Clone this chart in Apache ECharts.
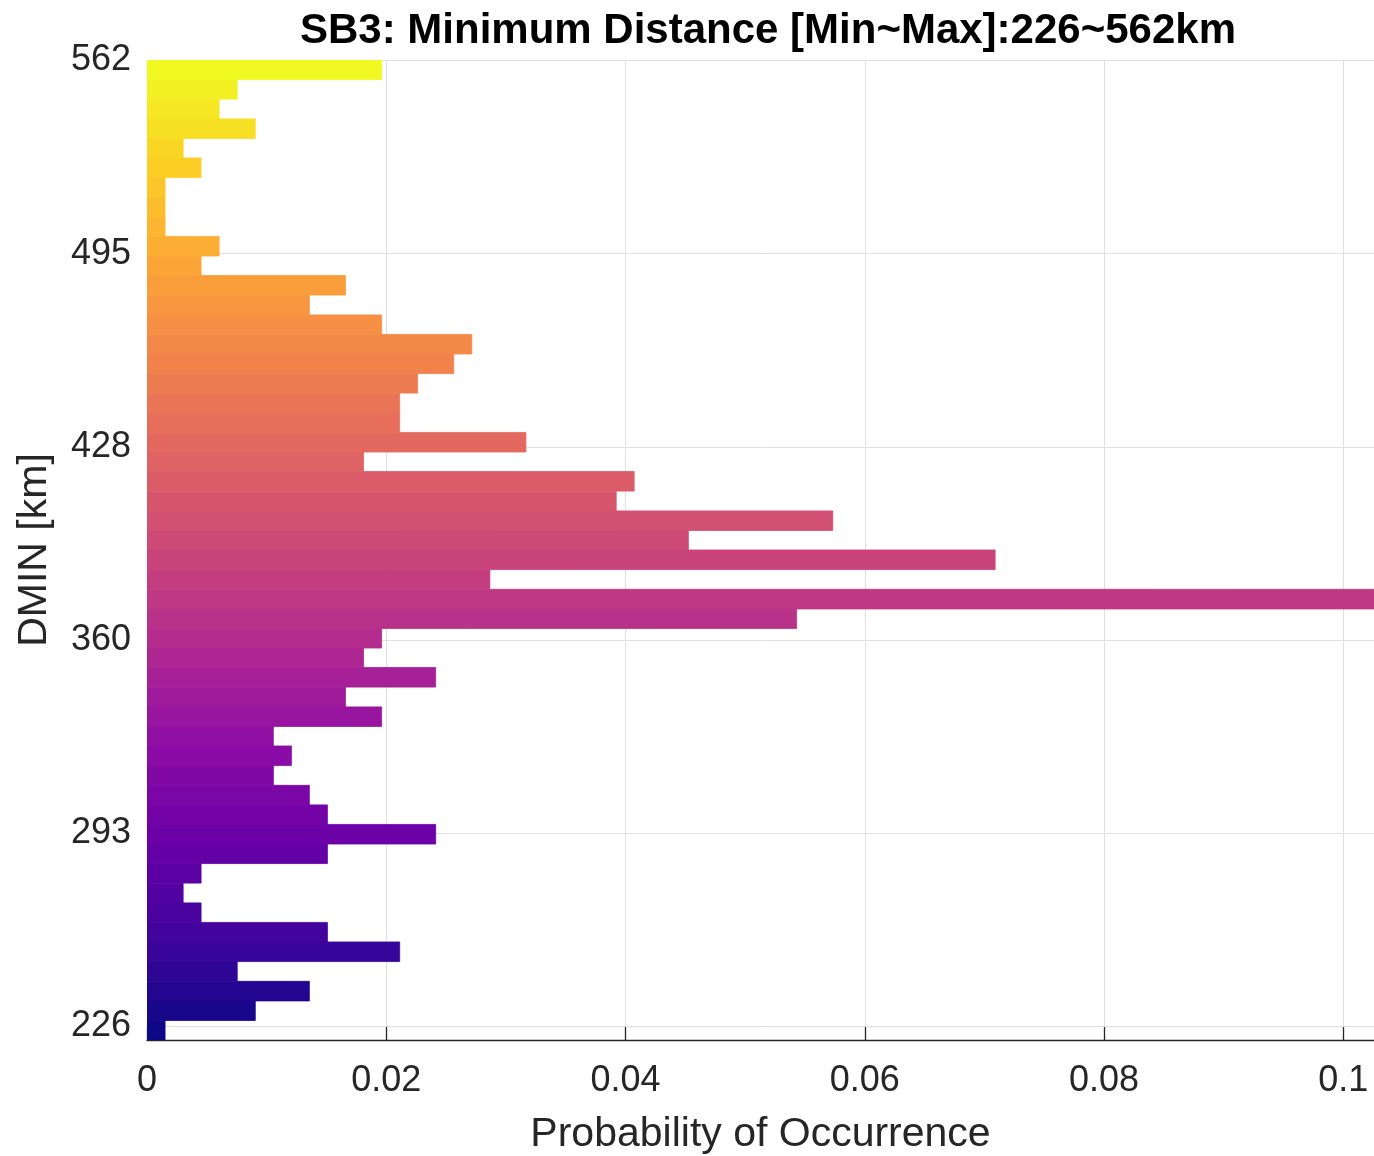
<!DOCTYPE html>
<html>
<head>
<meta charset="utf-8">
<script src="https://cdn.jsdelivr.net/npm/echarts@6/dist/echarts.min.js"></script>
<style>
  html, body { margin: 0; padding: 0; background: #ffffff; }
  #chart { width: 1374px; height: 1156px; }
</style>
</head>
<body>
<div id="chart"></div>
<script>
// ---- data (bins listed bottom -> top) ----
const titleText = 'SB3: Minimum Distance [Min~Max]:226~562km';
const yAxisName = 'DMIN [km]';
const xAxisName = 'Probability of Occurrence';

// bin centres in km
const binCenters = [
  224.6, 231.4, 238.2, 245.1, 251.9, 258.7, 265.5, 272.3, 279.2, 286.0,
  292.8, 299.6, 306.4, 313.3, 320.1, 326.9, 333.7, 340.5, 347.4, 354.2,
  361.0, 367.8, 374.6, 381.5, 388.3, 395.1, 401.9, 408.7, 415.6, 422.4,
  429.2, 436.0, 442.8, 449.7, 456.5, 463.3, 470.1, 476.9, 483.8, 490.6,
  497.4, 504.2, 511.0, 517.9, 524.7, 531.5, 538.3, 545.1, 552.0, 558.8
];
const binWidth = 6.82;

// probability of occurrence per bin
const probability = [
  0.00151, 0.00905, 0.01357, 0.00754, 0.02112, 0.01508, 0.00452, 0.00302, 0.00452, 0.01508,
  0.02413, 0.01508, 0.01357, 0.01056, 0.01207, 0.01056, 0.01961, 0.01659, 0.02413, 0.01810,
  0.01961, 0.05430, 0.10256, 0.02866, 0.07089, 0.04525, 0.05732, 0.03922, 0.04072, 0.01810,
  0.03167, 0.02112, 0.02112, 0.02262, 0.02564, 0.02715, 0.01961, 0.01357, 0.01659, 0.00452,
  0.00603, 0.00151, 0.00151, 0.00151, 0.00452, 0.00302, 0.00905, 0.00603, 0.00754, 0.01961
];

const yTicks = [226, 293.2, 360.4, 427.6, 494.8, 562];
const xTicks = [0, 0.02, 0.04, 0.06, 0.08, 0.1];
const yMin = 221.2, yMax = 562.2;
const xMin = 0, xMax = 0.10256;

// plasma colormap stops (style)
const plasma = ['#0d0887','#41049d','#6a00a8','#8f0da4','#b12a90','#cc4778',
                '#e16462','#f2844b','#fca636','#fcce25','#f0f921'];
function hex2rgb(h){ return [parseInt(h.substr(1,2),16), parseInt(h.substr(3,2),16), parseInt(h.substr(5,2),16)]; }
function plasmaAt(t){
  t = Math.max(0, Math.min(1, t));
  const s = t * (plasma.length - 1);
  const i = Math.min(Math.floor(s), plasma.length - 2);
  const f = s - i;
  const a = hex2rgb(plasma[i]), b = hex2rgb(plasma[i+1]);
  const c = a.map((v, k) => Math.round(v + (b[k] - v) * f));
  return 'rgb(' + c.join(',') + ')';
}

const seriesData = binCenters.map((c, i) => [probability[i], c]);
const FONT = '"Liberation Sans", Arial, Helvetica, sans-serif';
const TXT = '#262626';
const GRID_COLOR = '#e0e0e0';

const chart = echarts.init(document.getElementById('chart'), null, { renderer: 'canvas' });
chart.setOption({
  backgroundColor: '#ffffff',
  animation: false,
  textStyle: { fontFamily: FONT },
  title: {
    text: titleText,
    left: 300,
    top: 10,
    padding: 0,
    textStyle: { fontFamily: FONT, fontSize: 42, fontWeight: 'bold', color: '#000000' }
  },
  grid: { left: 147, right: 0, top: 60, height: 980, containLabel: false, outerBoundsMode: 'none' },
  xAxis: {
    type: 'value',
    min: xMin,
    max: xMax,
    name: xAxisName,
    nameLocation: 'middle',
    nameGap: 74,
    nameTextStyle: { fontFamily: FONT, fontSize: 41, color: TXT },
    axisLine: { show: true, lineStyle: { color: TXT, width: 1.3 } },
    axisTick: { show: true, inside: true, length: 13, lineStyle: { color: TXT, width: 1.3 }, customValues: xTicks },
    axisLabel: {
      customValues: xTicks,
      fontFamily: FONT, fontSize: 36, color: TXT, margin: 23,
      formatter: v => (v === 0 ? '0' : String(+Number(v).toFixed(2)))
    },
    splitLine: { show: true, lineStyle: { color: GRID_COLOR, width: 1 } }
  },
  yAxis: {
    type: 'value',
    min: yMin,
    max: yMax,
    name: yAxisName,
    nameLocation: 'middle',
    nameGap: 92,
    nameRotate: 90,
    nameTextStyle: { fontFamily: FONT, fontSize: 41, color: TXT },
    axisLine: { show: false },
    axisTick: { show: false, customValues: yTicks },
    axisLabel: {
      customValues: yTicks,
      fontFamily: FONT, fontSize: 36, color: TXT, margin: 16,
      padding: [10, 0, 0, 0],
      formatter: v => String(Math.round(v))
    },
    splitLine: { show: true, lineStyle: { color: GRID_COLOR, width: 1 } }
  },
  series: [{
    type: 'custom',
    clip: true,
    encode: { x: 0, y: 1 },
    data: seriesData,
    renderItem: function (params, api) {
      const v = api.value(0), yc = api.value(1);
      const p0 = api.coord([0, yc + binWidth / 2]);
      const p1 = api.coord([v, yc - binWidth / 2]);
      const n = binCenters.length;
      const col = plasmaAt(params.dataIndex / (n - 1));
      return {
        type: 'rect',
        shape: { x: p0[0], y: p0[1], width: p1[0] - p0[0], height: p1[1] - p0[1] },
        style: { fill: col, stroke: col, lineWidth: 0.8 }
      };
    }
  }]
});
</script>
</body>
</html>
